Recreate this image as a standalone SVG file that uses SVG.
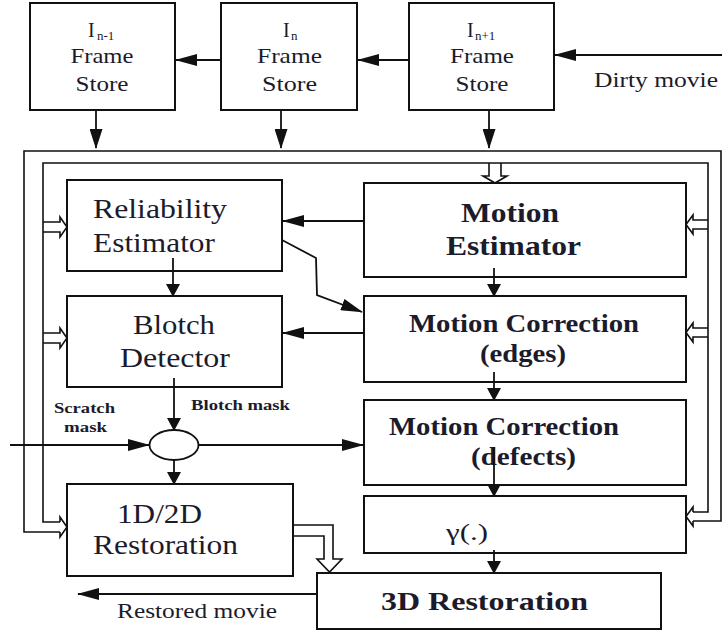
<svg xmlns="http://www.w3.org/2000/svg" width="722" height="635" viewBox="0 0 722 635">
  <style>
    .box { fill: #fff; stroke: #111; stroke-width: 2; }
    .ln { fill: none; stroke: #111; stroke-width: 1.8; }
    .bus { fill: none; stroke: #111; stroke-width: 1.6; }
    .t { font-family: "Times New Roman", "Liberation Serif", Tinos, serif; fill: #1b1b2b; }
    .b { font-weight: bold; }
  </style>
  <defs>
    <marker id="ah" markerUnits="userSpaceOnUse" markerWidth="22" markerHeight="12" refX="21" refY="6" orient="auto">
      <path d="M0,0 L22,6 L0,12 z" fill="#111"/>
    </marker>
    <marker id="af" markerUnits="userSpaceOnUse" markerWidth="20" markerHeight="13" refX="19" refY="6.5" orient="auto">
      <path d="M0,0 L20,6.5 L0,13 z" fill="#111"/>
    </marker>
    <marker id="av" markerUnits="userSpaceOnUse" markerWidth="13" markerHeight="14" refX="12" refY="7" orient="auto">
      <path d="M0,0 L13,7 L0,14 z" fill="#111"/>
    </marker>
  </defs>

  <!-- frame stores -->
  <g id="store-prev">
    <rect class="box" x="30" y="3" width="145" height="107"/>
    <text class="t" font-size="20"><tspan x="88" y="37">I</tspan><tspan x="97" y="40" font-size="13">n-1</tspan></text>
    <text class="t" font-size="21" x="102" y="63" text-anchor="middle" textLength="63" lengthAdjust="spacingAndGlyphs">Frame</text>
    <text class="t" font-size="21" x="102" y="91" text-anchor="middle" textLength="53" lengthAdjust="spacingAndGlyphs">Store</text>
  </g>
  <g id="store-cur">
    <rect class="box" x="221" y="3" width="136" height="107"/>
    <text class="t" font-size="20"><tspan x="283" y="37">I</tspan><tspan x="291" y="40" font-size="13">n</tspan></text>
    <text class="t" font-size="21" x="289.5" y="63" text-anchor="middle" textLength="65" lengthAdjust="spacingAndGlyphs">Frame</text>
    <text class="t" font-size="21" x="289.5" y="91" text-anchor="middle" textLength="55" lengthAdjust="spacingAndGlyphs">Store</text>
  </g>
  <g id="store-next">
    <rect class="box" x="409" y="3" width="145" height="107"/>
    <text class="t" font-size="20"><tspan x="467" y="37">I</tspan><tspan x="475" y="40" font-size="13">n+1</tspan></text>
    <text class="t" font-size="21" x="482" y="63" text-anchor="middle" textLength="64" lengthAdjust="spacingAndGlyphs">Frame</text>
    <text class="t" font-size="21" x="482" y="91" text-anchor="middle" textLength="53" lengthAdjust="spacingAndGlyphs">Store</text>
  </g>

  <!-- processing blocks -->
  <g id="reliability">
    <rect class="box" x="67" y="180" width="215" height="91"/>
    <text class="t" font-size="27" x="93" y="218" textLength="134" lengthAdjust="spacingAndGlyphs">Reliability</text>
    <text class="t" font-size="27" x="93" y="252" textLength="122" lengthAdjust="spacingAndGlyphs">Estimator</text>
  </g>
  <g id="blotch">
    <rect class="box" x="67" y="296" width="215" height="91"/>
    <text class="t" font-size="27" x="133" y="334" textLength="82" lengthAdjust="spacingAndGlyphs">Blotch</text>
    <text class="t" font-size="27" x="120" y="367" textLength="110" lengthAdjust="spacingAndGlyphs">Detector</text>
  </g>
  <g id="combiner">
    <ellipse cx="174" cy="445" rx="24.5" ry="15" fill="#fff" stroke="#111" stroke-width="1.8"/>
  </g>
  <g id="restore-2d">
    <rect class="box" x="67" y="484" width="226" height="92"/>
    <text class="t" font-size="27" x="117" y="523" textLength="85" lengthAdjust="spacingAndGlyphs">1D/2D</text>
    <text class="t" font-size="27" x="93" y="554" textLength="145" lengthAdjust="spacingAndGlyphs">Restoration</text>
  </g>
  <g id="motion-est">
    <rect class="box" x="364" y="183" width="322" height="94"/>
    <text class="t b" font-size="27" x="461" y="222" textLength="98" lengthAdjust="spacingAndGlyphs">Motion</text>
    <text class="t b" font-size="27" x="446" y="255" textLength="135" lengthAdjust="spacingAndGlyphs">Estimator</text>
  </g>
  <g id="motion-edges">
    <rect class="box" x="364" y="296" width="322" height="86"/>
    <text class="t b" font-size="25" x="409" y="332" textLength="230" lengthAdjust="spacingAndGlyphs">Motion Correction</text>
    <text class="t b" font-size="25" x="480" y="362" textLength="86" lengthAdjust="spacingAndGlyphs">(edges)</text>
  </g>
  <g id="motion-defects">
    <rect class="box" x="364" y="400" width="322" height="85"/>
    <text class="t b" font-size="25" x="389" y="435" textLength="230" lengthAdjust="spacingAndGlyphs">Motion Correction</text>
    <text class="t b" font-size="25" x="471" y="465" textLength="105" lengthAdjust="spacingAndGlyphs">(defects)</text>
  </g>
  <g id="gamma">
    <rect class="box" x="364" y="496" width="322" height="57"/>
    <text class="t" font-size="24" x="446" y="540" textLength="42" lengthAdjust="spacingAndGlyphs">γ(.)</text>
  </g>
  <g id="restore-3d">
    <rect class="box" x="317" y="573" width="344" height="56"/>
    <text class="t b" font-size="25" x="381" y="610" textLength="207" lengthAdjust="spacingAndGlyphs">3D Restoration</text>
  </g>

  <!-- labels -->
  <g id="labels">
    <text class="t" font-size="21" x="594" y="87" textLength="124" lengthAdjust="spacingAndGlyphs">Dirty movie</text>
    <text class="t b" font-size="14" x="54" y="413" textLength="61" lengthAdjust="spacingAndGlyphs">Scratch</text>
    <text class="t b" font-size="14" x="64" y="432" textLength="43" lengthAdjust="spacingAndGlyphs">mask</text>
    <text class="t b" font-size="14" x="191" y="410" textLength="99" lengthAdjust="spacingAndGlyphs">Blotch mask</text>
    <text class="t" font-size="22" x="117" y="618" textLength="160" lengthAdjust="spacingAndGlyphs">Restored movie</text>
  </g>

  <!-- connectors -->
  <g id="connectors">
    <!-- frame store chain -->
    <path class="ln" d="M722,55 H555" marker-end="url(#ah)"/>
    <path class="ln" d="M409,60 H358" marker-end="url(#ah)"/>
    <path class="ln" d="M221,60 H176" marker-end="url(#ah)"/>
    <path class="ln" d="M96,110 V148" marker-end="url(#af)"/>
    <path class="ln" d="M281,110 V148" marker-end="url(#af)"/>
    <path class="ln" d="M489,110 V148" marker-end="url(#af)"/>

    <!-- distribution bus -->
    <path class="bus" d="M693,512 H708 V163 H43 V522 H60"/>
    <path class="bus" d="M693,521 H721 V151 H24 V532 H60"/>
    <!-- bus taps (hollow arrows) -->
    <path class="bus" d="M489,163 V176 H483 L495,183 L507,176 H501 V163"/>
    <path class="bus" d="M708,220 H693 V215 L686,224.5 L693,234 V229 H708"/>
    <path class="bus" d="M708,328 H693 V323 L686,332.5 L693,342 V337 H708"/>
    <path class="bus" d="M693,512 V507 L686,516.5 L693,526 V521"/>
    <path class="bus" d="M43,222 H60 V217 L67,227 L60,237 V232 H43"/>
    <path class="bus" d="M43,333 H60 V328 L67,338 L60,348 V343 H43"/>
    <path class="bus" d="M60,522 V517 L67,527 L60,537 V532"/>

    <!-- left column -->
    <path class="ln" d="M364,221 H283" marker-end="url(#ah)"/>
    <path class="ln" d="M364,333 H283" marker-end="url(#ah)"/>
    <path class="ln" d="M282,240 L316,258 L317,295 L362,312" marker-end="url(#ah)"/>
    <path class="ln" d="M173,258 V296" marker-end="url(#av)"/>
    <path class="ln" d="M174,378 V430" marker-end="url(#av)"/>
    <path class="ln" d="M10,445 H149" marker-end="url(#ah)"/>
    <path class="ln" d="M198.5,445 H363" marker-end="url(#ah)"/>
    <path class="ln" d="M174,460 V484" marker-end="url(#av)"/>

    <!-- right column -->
    <path class="ln" d="M494,268 V296" marker-end="url(#av)"/>
    <path class="ln" d="M494,372 V400" marker-end="url(#av)"/>
    <path class="ln" d="M494,447 V496" marker-end="url(#av)"/>
    <path class="ln" d="M494,550 V573" marker-end="url(#av)"/>

    <!-- outputs -->
    <path class="bus" d="M293,525 H333 V559 H342 L329.5,572 L317,559 H324 V536 H293"/>
    <path class="ln" d="M317,594 H78" marker-end="url(#ah)"/>
  </g>
</svg>
